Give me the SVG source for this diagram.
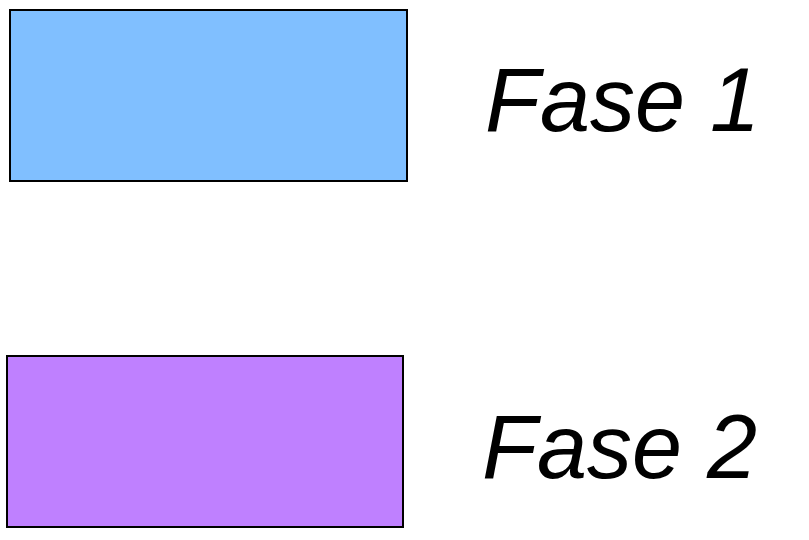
<svg xmlns="http://www.w3.org/2000/svg" width="809" height="540" viewBox="0 0 809 540">
<style>
.box{stroke:#000;stroke-width:2}
.lbl{font-family:"Liberation Sans",Arial,sans-serif;font-style:italic;font-size:90px;fill:#000}
</style>
<rect width="809" height="540" fill="#fff"/>
<g id="fase1">
<rect class="box" x="10" y="10" width="397" height="171" fill="#80BFFF"/>
<text class="lbl" x="485" y="131">Fase 1</text>
</g>
<g id="fase2">
<rect class="box" x="7" y="356" width="396" height="171" fill="#BF80FF"/>
<text class="lbl" x="482" y="478">Fase 2</text>
</g>
<g id="connectors"/>
</svg>
